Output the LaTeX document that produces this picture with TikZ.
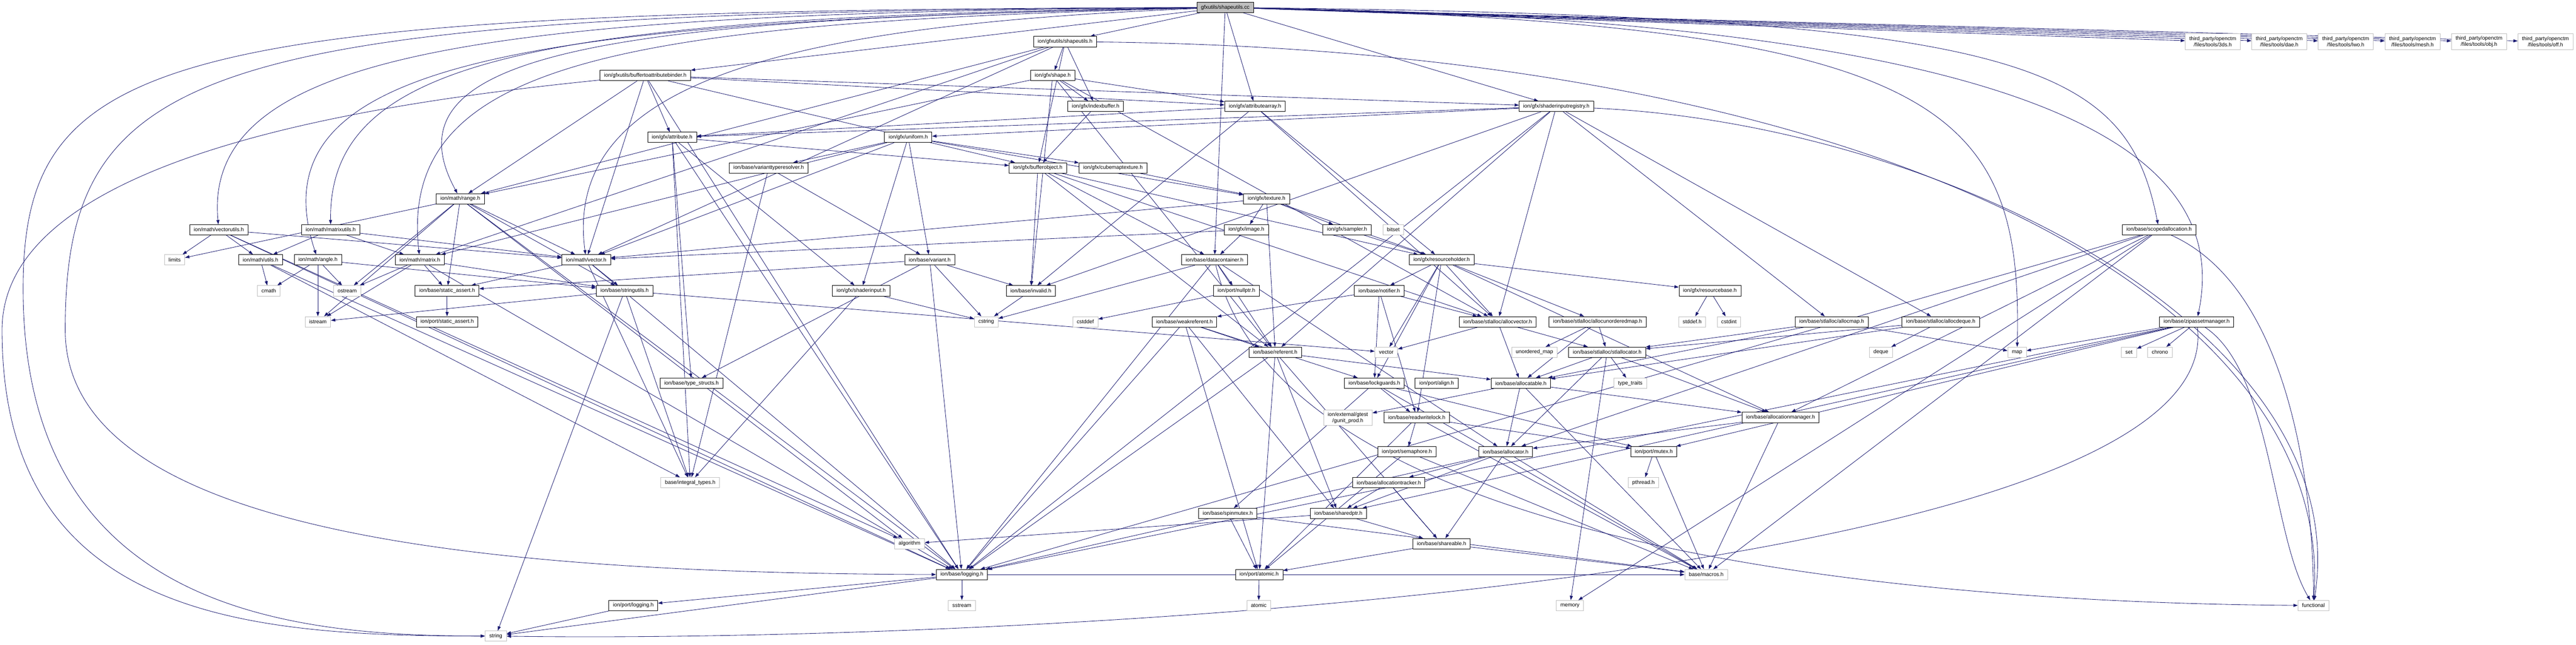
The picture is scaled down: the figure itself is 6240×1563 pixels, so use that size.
\documentclass[tikz,border=0pt]{standalone}
\usepackage{fontspec}
\setmainfont{Liberation Sans}
\usetikzlibrary{arrows.meta}
\definecolor{incnavy}{RGB}{25,25,112}
\definecolor{incgray}{RGB}{191,191,191}
\tikzstyle{header} = [rectangle, draw=black, fill=white, line width=0.6pt, minimum height=0.5cm, inner xsep=0.2cm, inner ysep=0pt, text centered, font=\fontsize{7.3}{8.5}\selectfont]
\tikzstyle{syshdr} = [header, draw=incgray]
\tikzstyle{source} = [header, fill=incgray]
\tikzstyle{twoline} = [syshdr, align=center, minimum height=0.78cm]
\tikzstyle{arrow} = [line width=0.6pt, ->, >={Triangle[length=6pt,width=4.2pt]}, color=incnavy]
\pgfdeclarelayer{bg}
\pgfsetlayers{bg,main}
\begin{document}
\begin{tikzpicture}[x=0.02cm, y=-0.02cm]
\useasboundingbox (0,0) rectangle (6240,1563);
% top ranks
\node[source] (cc) at (2968,18) {gfxutils/shapeutils.cc};
\node[header] (suh) at (2580,101) {ion/gfxutils/shapeutils.h};
\node[twoline] (ctm3ds) at (5360,101) {third\_party/openctm\\/files/tools/3ds.h};
\node[twoline] (ctmdae) at (5521,101) {third\_party/openctm\\/files/tools/dae.h};
\node[twoline] (ctmlwo) at (5682,101) {third\_party/openctm\\/files/tools/lwo.h};
\node[twoline] (ctmmesh) at (5844,101) {third\_party/openctm\\/files/tools/mesh.h};
\node[twoline] (ctmobj) at (6005,101) {third\_party/openctm\\/files/tools/obj.h};
\node[twoline] (ctmoff) at (6166,101) {third\_party/openctm\\/files/tools/off.h};
\node[header] (bab) at (1563,183) {ion/gfxutils/buffertoattributebinder.h};
\node[header] (shp) at (2550,183) {ion/gfx/shape.h};
\node[header] (ibuf) at (2654,258) {ion/gfx/indexbuffer.h};
\node[header] (aarr) at (3040,258) {ion/gfx/attributearray.h};
\node[header] (sir) at (3770,258) {ion/gfx/shaderinputregistry.h};
\node[header] (attr) at (1628,333) {ion/gfx/attribute.h};
\node[header] (unif) at (2200,333) {ion/gfx/uniform.h};
\node[header] (vtr) at (1862,407) {ion/base/varianttyperesolver.h};
\node[header] (bobj) at (2514,407) {ion/gfx/bufferobject.h};
\node[header] (cmt) at (2696,407) {ion/gfx/cubemaptexture.h};
\node[header] (rng) at (1115,482) {ion/math/range.h};
\node[header] (tex) at (3068,482) {ion/gfx/texture.h};
% middle ranks
\node[header] (vut) at (530,557) {ion/math/vectorutils.h};
\node[header] (mut) at (801,557) {ion/math/matrixutils.h};
\node[header] (img) at (3019,557) {ion/gfx/image.h};
\node[header] (smp) at (3263,557) {ion/gfx/sampler.h};
\node[syshdr] (bitset) at (3375,557) {bitset};
\node[header] (sal) at (5230,557) {ion/base/scopedallocation.h};
\node[syshdr] (limits) at (423,630) {limits};
\node[header] (mutl) at (631,630) {ion/math/utils.h};
\node[header] (ang) at (770,630) {ion/math/angle.h};
\node[header] (mat) at (1017,630) {ion/math/matrix.h};
\node[header] (vec) at (1420,630) {ion/math/vector.h};
\node[header] (var) at (2252,630) {ion/base/variant.h};
\node[header] (dc) at (2942,630) {ion/base/datacontainer.h};
\node[header] (rh) at (3492,630) {ion/gfx/resourceholder.h};
\node[syshdr] (cmath) at (651,705) {cmath};
\node[syshdr] (ostream) at (841,705) {ostream};
\node[header] (bsa) at (1083,705) {ion/base/static\_assert.h};
\node[header] (stru) at (1513,705) {ion/base/stringutils.h};
\node[header] (sin) at (2086,705) {ion/gfx/shaderinput.h};
\node[header] (inv) at (2497,705) {ion/base/invalid.h};
\node[header] (nptr) at (2995,705) {ion/port/nullptr.h};
\node[header] (ntf) at (3341,705) {ion/base/notifier.h};
\node[header] (rb) at (4142,705) {ion/gfx/resourcebase.h};
\node[syshdr] (istream) at (770,780) {istream};
\node[header] (psa) at (1083,780) {ion/port/static\_assert.h};
\node[syshdr] (cstring) at (2389,780) {cstring};
\node[syshdr] (cstddef) at (2629,780) {cstddef};
\node[header] (wref) at (2869,780) {ion/base/weakreferent.h};
\node[header] (avec) at (3628,780) {ion/base/stlalloc/allocvector.h};
\node[header] (aumap) at (3870,780) {ion/base/stlalloc/allocunorderedmap.h};
\node[syshdr] (stddef) at (4099,780) {stddef.h};
\node[syshdr] (cstdint) at (4188,780) {cstdint};
\node[header] (amap) at (4437,780) {ion/base/stlalloc/allocmap.h};
\node[header] (adeq) at (4701,780) {ion/base/stlalloc/allocdeque.h};
\node[header] (zam) at (5321,780) {ion/base/zipassetmanager.h};
\node[header] (ref) at (3089,854) {ion/base/referent.h};
\node[syshdr] (stdvec) at (3358,854) {vector};
\node[syshdr] (umap) at (3717,854) {unordered\_map};
\node[header] (stla) at (3893,854) {ion/base/stlalloc/stlallocator.h};
\node[syshdr] (deque) at (4556,854) {deque};
\node[syshdr] (map) at (4886,854) {map};
\node[syshdr] (set) at (5157,854) {set};
\node[syshdr] (chrono) at (5232,854) {chrono};
% lower ranks
\node[header] (ts) at (1675,929) {ion/base/type\_structs.h};
\node[header] (lg) at (3329,929) {ion/base/lockguards.h};
\node[header] (algn) at (3480,929) {ion/port/align.h};
\node[header] (alc) at (3684,929) {ion/base/allocatable.h};
\node[syshdr] (ttr) at (3949,929) {type\_traits};
\node[twoline, minimum height=0.74cm] (gunit) at (3265,1013) {ion/external/gtest\\/gunit\_prod.h};
\node[header] (rwl) at (3432,1012) {ion/base/readwritelock.h};
\node[header] (am) at (4313,1012) {ion/base/allocationmanager.h};
\node[header] (sem) at (3408,1095) {ion/port/semaphore.h};
\node[header] (alr) at (3647,1095) {ion/base/allocator.h};
\node[header] (mtx) at (4006,1095) {ion/port/mutex.h};
\node[syshdr] (it) at (1672,1170) {base/integral\_types.h};
\node[header] (atr) at (3364,1170) {ion/base/allocationtracker.h};
\node[syshdr] (pthread) at (3981,1170) {pthread.h};
\node[header] (sptr) at (3242,1245) {ion/base/sharedptr.h};
\node[header] (smx) at (2974,1245) {ion/base/spinmutex.h};
\node[syshdr] (algo) at (2203,1318) {algorithm};
\node[header] (shr) at (3492,1318) {ion/base/shareable.h};
\node[header] (blog) at (2330,1393) {ion/base/logging.h};
\node[header] (pat) at (3050,1393) {ion/port/atomic.h};
\node[syshdr] (mac) at (4133,1393) {base/macros.h};
\node[syshdr] (sstream) at (2330,1468) {sstream};
\node[syshdr] (atomic) at (3049,1468) {atomic};
\node[header] (plog) at (1534,1468) {ion/port/logging.h};
\node[syshdr] (memory) at (3803,1468) {memory};
\node[syshdr] (functional) at (5604,1468) {functional};
\node[syshdr] (string) at (1201,1542) {string};
\begin{pgfonlayer}{bg}
% from the source file
\draw[arrow] (cc) -- (suh);
\draw[arrow] (cc) -- (bab);
\draw[arrow] (cc) -- (aarr);
\draw[arrow] (cc) -- (sir);
\draw[arrow] (cc) -- (dc);
\draw[arrow] (cc) -- (ctm3ds);
\draw[arrow] (cc) -- (ctmdae);
\draw[arrow] (cc) -- (ctmlwo);
\draw[arrow] (cc) -- (ctmmesh);
\draw[arrow] (cc) -- (ctmobj);
\draw[arrow] (cc) -- (ctmoff);
\draw[arrow] (cc) .. controls (4900,40) and (5150,150) .. (sal);
\draw[arrow] (cc) .. controls (5050,50) and (5400,400) .. (zam);
\draw[arrow] (cc) .. controls (4700,60) and (4900,250) .. (map);
\draw[arrow] (cc) .. controls (1200,30) and (490,120) .. (vut);
\draw[arrow] (cc) .. controls (1300,40) and (796,140) .. (mut);
\draw[arrow] (cc) .. controls (1250,50) and (612,150) .. (ang);
\draw[arrow] (cc) .. controls (1500,45) and (918,120) .. (rng);
\draw[arrow] (cc) .. controls (1500,55) and (964,150) .. (mat);
\draw[arrow] (cc) .. controls (1900,60) and (1362,200) .. (vec);
\draw[arrow] (cc) .. controls (400,25) and (56,120) .. (56,700) .. controls (56,1480) and (700,1542) .. (string);
\draw[arrow] (cc) .. controls (500,30) and (158,140) .. (158,800) .. controls (158,1300) and (1200,1390) .. (blog);
% gfxutils headers
\draw[arrow] (suh) -- (shp);
\draw[arrow] (suh) -- (ibuf);
\draw[arrow] (suh) -- (bobj);
\draw[arrow] (suh) -- (rng);
\draw[arrow] (suh) -- (mat);
\draw[arrow] (suh) -- (vec);
\draw[arrow] (suh) .. controls (4500,120) and (5655,700) .. (functional);
\draw[arrow] (bab) -- (attr);
\draw[arrow] (bab) -- (aarr);
\draw[arrow] (bab) -- (bobj);
\draw[arrow] (bab) -- (sir);
\draw[arrow] (bab) -- (vec);
\draw[arrow] (bab) -- (rng);
\draw[arrow] (bab) -- (blog);
\draw[arrow] (bab) .. controls (900,250) and (5,380) .. (5,800) .. controls (5,1500) and (600,1542) .. (string);
% gfx headers
\draw[arrow] (shp) -- (ibuf);
\draw[arrow] (shp) -- (aarr);
\draw[arrow] (shp) -- (rng);
\draw[arrow] (shp) -- (inv);
\draw[arrow] (shp) -- (avec);
\draw[arrow] (shp) -- (ref);
\draw[arrow] (ibuf) -- (bobj);
\draw[arrow] (aarr) -- (attr);
\draw[arrow] (aarr) -- (rh);
\draw[arrow] (aarr) -- (avec);
\draw[arrow] (aarr) -- (inv);
\draw[arrow] (sir) -- (attr);
\draw[arrow] (sir) -- (unif);
\draw[arrow] (sir) -- (avec);
\draw[arrow] (sir) -- (adeq);
\draw[arrow] (sir) -- (amap);
\draw[arrow] (sir) -- (ref);
\draw[arrow] (sir) -- (inv);
\draw[arrow] (sir) -- (blog);
\draw[arrow] (sir) .. controls (4700,300) and (5706,800) .. (functional);
\draw[arrow] (attr) -- (bobj);
\draw[arrow] (attr) -- (sin);
\draw[arrow] (attr) -- (ts);
\draw[arrow] (attr) -- (it);
\draw[arrow] (attr) -- (blog);
\draw[arrow] (unif) -- (vtr);
\draw[arrow] (unif) -- (cmt);
\draw[arrow] (unif) -- (tex);
\draw[arrow] (unif) -- (var);
\draw[arrow] (unif) -- (sin);
\draw[arrow] (unif) -- (mat);
\draw[arrow] (unif) -- (vec);
\draw[arrow] (vtr) -- (var);
\draw[arrow] (vtr) -- (it);
\draw[arrow] (bobj) -- (inv);
\draw[arrow] (bobj) -- (dc);
\draw[arrow] (bobj) -- (rh);
\draw[arrow] (bobj) -- (avec);
\draw[arrow] (bobj) -- (ref);
\draw[arrow] (cmt) -- (tex);
\draw[arrow] (tex) -- (img);
\draw[arrow] (tex) -- (smp);
\draw[arrow] (tex) -- (rh);
\draw[arrow] (tex) -- (ref);
\draw[arrow] (tex) -- (vec);
\draw[arrow] (img) -- (dc);
\draw[arrow] (img) -- (vec);
\draw[arrow] (smp) -- (rh);
\draw[arrow] (sin) -- (it);
\draw[arrow] (sin) -- (cstring);
% math headers
\draw[arrow] (rng) -- (vec);
\draw[arrow] (rng) -- (limits);
\draw[arrow] (rng) -- (istream);
\draw[arrow] (rng) -- (ostream);
\draw[arrow] (rng) -- (bsa);
\draw[arrow] (rng) -- (algo);
\draw[arrow] (rng) -- (stru);
\draw[arrow] (rng) -- (blog);
\draw[arrow] (vut) -- (limits);
\draw[arrow] (vut) -- (mutl);
\draw[arrow] (vut) -- (vec);
\draw[arrow] (vut) -- (algo);
\draw[arrow] (vut) -- (blog);
\draw[arrow] (mut) -- (mutl);
\draw[arrow] (mut) -- (mat);
\draw[arrow] (mut) -- (vec);
\draw[arrow] (mutl) -- (cmath);
\draw[arrow] (mutl) -- (blog);
\draw[arrow] (mutl) -- (it);
\draw[arrow] (ang) -- (cmath);
\draw[arrow] (ang) -- (istream);
\draw[arrow] (ang) -- (ostream);
\draw[arrow] (ang) -- (stru);
\draw[arrow] (mat) -- (bsa);
\draw[arrow] (mat) -- (ostream);
\draw[arrow] (mat) -- (istream);
\draw[arrow] (mat) -- (stru);
\draw[arrow] (mat) -- (blog);
\draw[arrow] (vec) -- (bsa);
\draw[arrow] (vec) -- (stru);
\draw[arrow] (vec) -- (blog);
\draw[arrow] (vec) -- (it);
\draw[arrow] (bsa) -- (psa);
\draw[arrow] (stru) -- (string);
\draw[arrow] (stru) -- (istream);
\draw[arrow] (stru) -- (it);
\draw[arrow] (stru) -- (stdvec);
% base headers
\draw[arrow] (var) -- (inv);
\draw[arrow] (var) -- (cstring);
\draw[arrow] (var) -- (blog);
\draw[arrow] (var) -- (bsa);
\draw[arrow] (var) -- (ts);
\draw[arrow] (dc) -- (nptr);
\draw[arrow] (dc) -- (cstring);
\draw[arrow] (dc) -- (blog);
\draw[arrow] (dc) -- (alr);
\draw[arrow] (dc) -- (ref);
\draw[arrow] (dc) .. controls (3100,1300) and (4500,1460) .. (functional);
\draw[arrow] (inv) -- (cstring);
\draw[arrow] (nptr) -- (cstddef);
\draw[arrow] (wref) -- (ref);
\draw[arrow] (wref) -- (blog);
\draw[arrow] (wref) -- (pat);
\draw[arrow] (wref) -- (sptr);
\draw[arrow] (wref) -- (lg);
\draw[arrow] (ref) -- (shr);
\draw[arrow] (ref) -- (sptr);
\draw[arrow] (ref) -- (alc);
\draw[arrow] (ref) -- (blog);
\draw[arrow] (ref) -- (pat);
\draw[arrow] (smx) -- (pat);
\draw[arrow] (smx) -- (mac);
\draw[arrow] (rh) -- (ntf);
\draw[arrow] (rh) -- (avec);
\draw[arrow] (rh) -- (aumap);
\draw[arrow] (rh) -- (rb);
\draw[arrow] (rh) -- (stdvec);
\draw[arrow] (rh) -- (lg);
\draw[arrow] (rh) -- (rwl);
\draw[arrow] (rh) -- (am);
\draw[arrow] (ntf) -- (avec);
\draw[arrow] (ntf) -- (lg);
\draw[arrow] (ntf) -- (wref);
\draw[arrow] (ntf) -- (rwl);
\draw[arrow] (rb) -- (stddef);
\draw[arrow] (rb) -- (cstdint);
% allocators
\draw[arrow] (avec) -- (stdvec);
\draw[arrow] (avec) -- (stla);
\draw[arrow] (avec) -- (alc);
\draw[arrow] (aumap) -- (umap);
\draw[arrow] (aumap) -- (stla);
\draw[arrow] (aumap) -- (alc);
\draw[arrow] (amap) -- (map);
\draw[arrow] (amap) -- (stla);
\draw[arrow] (amap) -- (alc);
\draw[arrow] (adeq) -- (deque);
\draw[arrow] (adeq) -- (stla);
\draw[arrow] (adeq) -- (alc);
\draw[arrow] (stla) -- (alc);
\draw[arrow] (stla) -- (alr);
\draw[arrow] (stla) -- (ttr);
\draw[arrow] (stla) -- (memory);
\draw[arrow] (stla) -- (am);
\draw[arrow] (lg) -- (rwl);
\draw[arrow] (lg) -- (mtx);
\draw[arrow] (lg) -- (smx);
\draw[arrow] (lg) -- (mac);
\draw[arrow] (alc) -- (alr);
\draw[arrow] (alc) -- (am);
\draw[arrow] (alc) -- (gunit);
\draw[arrow] (alc) -- (mac);
\draw[arrow] (rwl) -- (sem);
\draw[arrow] (rwl) -- (mtx);
\draw[arrow] (rwl) -- (pat);
\draw[arrow] (rwl) -- (mac);
\draw[arrow] (am) -- (alr);
\draw[arrow] (am) -- (mac);
\draw[arrow] (sem) -- (mac);
\draw[arrow] (sem) -- (pat);
\draw[arrow] (alr) -- (atr);
\draw[arrow] (alr) -- (sptr);
\draw[arrow] (alr) -- (shr);
\draw[arrow] (alr) -- (mac);
\draw[arrow] (alr) -- (blog);
\draw[arrow] (mtx) -- (pthread);
\draw[arrow] (mtx) -- (mac);
\draw[arrow] (atr) -- (sptr);
\draw[arrow] (atr) -- (shr);
\draw[arrow] (sptr) -- (shr);
\draw[arrow] (sptr) -- (algo);
\draw[arrow] (shr) -- (pat);
\draw[arrow] (shr) -- (mac);
\draw[arrow] (blog) -- (sstream);
\draw[arrow] (blog) -- (plog);
\draw[arrow] (blog) -- (string);
\draw[arrow] (blog) -- (mac);
\draw[arrow] (plog) -- (string);
\draw[arrow] (pat) -- (atomic);
% right-hand headers
\draw[arrow] (sal) -- (alr);
\draw[arrow] (sal) -- (am);
\draw[arrow] (sal) -- (blog);
\draw[arrow] (sal) -- (mac);
\draw[arrow] (sal) -- (memory);
\draw[arrow] (sal) .. controls (5550,700) and (5604,1200) .. (functional);
\draw[arrow] (zam) -- (map);
\draw[arrow] (zam) -- (set);
\draw[arrow] (zam) -- (chrono);
\draw[arrow] (zam) -- (mtx);
\draw[arrow] (zam) -- (sptr);
\draw[arrow] (zam) -- (blog);
\draw[arrow] (zam) .. controls (5503,900) and (5503,1300) .. (functional);
\draw[arrow] (zam) .. controls (5400,1400) and (2500,1560) .. (string);
\end{pgfonlayer}
\end{tikzpicture}
\end{document}
